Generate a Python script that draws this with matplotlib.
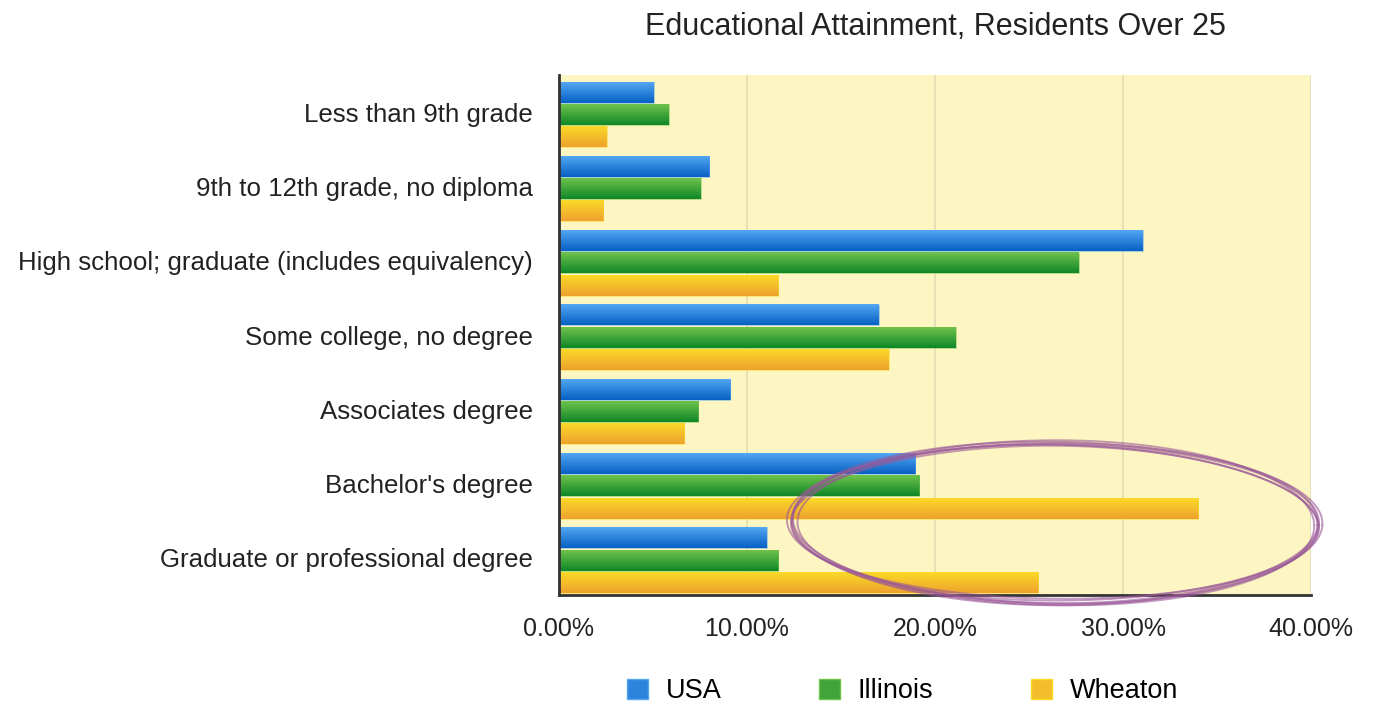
import matplotlib.pyplot as plt
import numpy as np
from matplotlib.colors import to_rgb
from matplotlib.patches import Patch

categories = [
    "Less than 9th grade",
    "9th to 12th grade, no diploma",
    "High school; graduate (includes equivalency)",
    "Some college, no degree",
    "Associates degree",
    "Bachelor's degree",
    "Graduate or professional degree",
]
usa = [5.05, 8.0, 31.05, 17.0, 9.1, 18.95, 11.05]
illinois = [5.85, 7.55, 27.65, 21.1, 7.4, 19.15, 11.65]
wheaton = [2.55, 2.35, 11.65, 17.55, 6.65, 34.0, 25.5]
series_names = ["USA", "Illinois", "Wheaton"]
x_ticks = [0, 10, 20, 30, 40]

# top / bottom colours of the bar gradients
shades = {
    "USA": ("#52a6f2", "#0861c4"),
    "Illinois": ("#6fc24c", "#108728"),
    "Wheaton": ("#fbd927", "#eea22f"),
}

plt.rcParams["font.family"] = ["Liberation Sans", "DejaVu Sans"]

fig = plt.figure(figsize=(13.73, 7.04), dpi=100)
ax = fig.add_axes([0.4071, 0.1548, 0.5478, 0.7386])
ax.set_facecolor("#fdf6c2")

n = len(categories)
bar_h = 0.28
offsets = [0.3, 0.0, -0.3]


def gradient_bar(ax, y, value, top, bottom):
    c0 = np.array(to_rgb(bottom))
    c1 = np.array(to_rgb(top))
    t = np.linspace(0, 1, 32)[:, None, None]
    img = c0 + (c1 - c0) * t
    ax.imshow(img, extent=(0, value, y - bar_h / 2, y + bar_h / 2),
              origin="lower", aspect="auto", interpolation="bilinear", zorder=3)
    ax.barh(y, value, height=bar_h, left=0, facecolor="none",
            edgecolor=top, linewidth=0.7, alpha=0.5, zorder=4)


for name, values, off in zip(series_names, [usa, illinois, wheaton], offsets):
    top, bottom = shades[name]
    for i, v in enumerate(values):
        gradient_bar(ax, (n - 1 - i) + off - 0.03, v, top, bottom)

ax.set_xlim(0, 40)
ax.set_ylim(-0.5, n - 0.5)
ax.set_yticks(np.arange(n))
ax.set_yticklabels(categories[::-1], fontsize=18.6, color="#222222")
ax.set_xticks(x_ticks)
ax.set_xticklabels([f"{t:.2f}%" for t in x_ticks], fontsize=18, color="#222222")
ax.tick_params(axis="both", length=0)
ax.tick_params(axis="y", pad=19)
ax.tick_params(axis="x", pad=16)

ax.grid(axis="x", color="#e3dcb4", linewidth=1.2, zorder=0)
ax.set_axisbelow(True)
for side in ["top", "right"]:
    ax.spines[side].set_visible(False)
ax.spines["left"].set_color("#333333")
ax.spines["left"].set_linewidth(2)
ax.spines["bottom"].set_color("#333333")
ax.spines["bottom"].set_linewidth(2)
ax.spines["left"].set_zorder(5)

fig.text(0.681, 0.962, "Educational Attainment, Residents Over 25",
         ha="center", va="center", fontsize=22, color="#222222")

# hand-drawn ellipse around the Wheaton bars
t = np.linspace(0, 2 * np.pi, 400)
cx, cy, rx, ry = 26.4, 0.47, 13.95, 1.07
passes = [(0.0, 0.0, 0.0), (0.15, 0.03, 0.8), (-0.12, -0.02, 2.1),
          (0.08, -0.04, 3.3), (-0.05, 0.04, 4.4), (0.2, 0.01, 5.2)]
for da, db, ph in passes:
    wob = 1 + 0.01 * np.sin(3 * t + ph)
    xs = cx + (rx + da) * np.cos(t) * wob
    ys = cy + (ry + db) * np.sin(t) * wob - 0.03 * np.cos(t)
    ax.plot(xs, ys, color="#9a5898", linewidth=1.4, alpha=0.6,
            clip_on=False, zorder=6)

handles = []
for s in series_names:
    top, bottom = (np.array(to_rgb(c)) for c in shades[s])
    handles.append(Patch(facecolor=(top + bottom) / 2, edgecolor=shades[s][0],
                         label=s))
fig.legend(handles=handles, loc="center left", bbox_to_anchor=(0.4386, 0.018),
           ncol=3, frameon=False, fontsize=19.5, handlelength=0.78,
           handleheight=0.78, handletextpad=0.66, columnspacing=3.6)

fig.savefig("out.png", dpi=100)
